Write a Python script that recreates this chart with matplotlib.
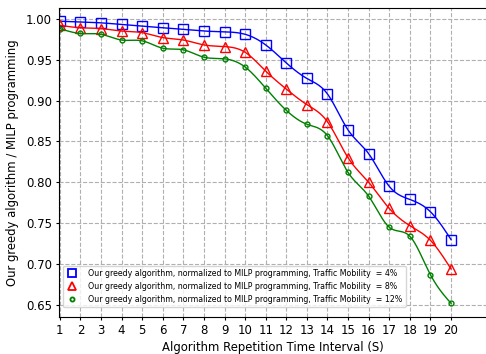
import numpy as np
import matplotlib
matplotlib.use("Agg")
import matplotlib.pyplot as plt

x = list(range(1, 21))
mob_4 = [0.997, 0.996, 0.995, 0.993, 0.991, 0.989, 0.987, 0.985, 0.984, 0.981,
         0.968, 0.946, 0.927, 0.908, 0.864, 0.835, 0.795, 0.779, 0.764, 0.730]
mob_8 = [0.992, 0.989, 0.988, 0.985, 0.983, 0.977, 0.974, 0.968, 0.966, 0.959,
         0.936, 0.914, 0.895, 0.874, 0.830, 0.800, 0.768, 0.747, 0.729, 0.694]
mob_12 = [0.988, 0.982, 0.981, 0.974, 0.973, 0.964, 0.962, 0.953, 0.951, 0.941,
          0.915, 0.888, 0.871, 0.857, 0.812, 0.783, 0.745, 0.734, 0.687, 0.652]
labels = ["Our greedy algorithm, normalized to MILP programming, Traffic Mobility  = 4%",
          "Our greedy algorithm, normalized to MILP programming, Traffic Mobility  = 8%",
          "Our greedy algorithm, normalized to MILP programming, Traffic Mobility  = 12%"]


def smooth(xs, ys, n=400):
    # natural cubic spline through the points
    xs = np.asarray(xs, float)
    ys = np.asarray(ys, float)
    m = len(xs)
    h = np.diff(xs)
    A = np.zeros((m, m))
    b = np.zeros(m)
    A[0, 0] = A[-1, -1] = 1
    for i in range(1, m - 1):
        A[i, i - 1] = h[i - 1]
        A[i, i] = 2 * (h[i - 1] + h[i])
        A[i, i + 1] = h[i]
        b[i] = 3 * ((ys[i + 1] - ys[i]) / h[i] - (ys[i] - ys[i - 1]) / h[i - 1])
    c = np.linalg.solve(A, b)
    xf = np.linspace(xs[0], xs[-1], n)
    idx = np.clip(np.searchsorted(xs, xf) - 1, 0, m - 2)
    dx = xf - xs[idx]
    bb = (ys[idx + 1] - ys[idx]) / h[idx] - h[idx] * (2 * c[idx] + c[idx + 1]) / 3
    dd = (c[idx + 1] - c[idx]) / (3 * h[idx])
    yf = ys[idx] + bb * dx + c[idx] * dx ** 2 + dd * dx ** 3
    return xf, yf


fig = plt.figure(figsize=(4.86, 3.54), dpi=100)
ax = fig.add_axes([0.121, 0.104, 0.879, 0.873])

styles = [("blue", "s", 6.5, mob_4), ("red", "^", 6.5, mob_8), ("green", "o", 3.5, mob_12)]
for (col, mk, ms, ys), lab in zip(styles, labels):
    xf, yf = smooth(x, ys)
    ax.plot(xf, yf, color=col, lw=1)
    ax.plot(x, ys, ls="none", marker=mk, ms=ms, mfc="none", mec=col, mew=1)
    ax.plot([], [], ls="none", marker=mk, ms=ms * 0.85, mfc="none", mec=col, mew=1.3, label=lab)

ax.set_xlim(0.95, 21.7)
ax.set_ylim(0.635, 1.013)
ax.set_xticks(x)
ax.set_yticks([0.65, 0.70, 0.75, 0.80, 0.85, 0.90, 0.95, 1.00])
ax.grid(True, ls="--", color="#b0b0b0", lw=0.8)
ax.tick_params(labelsize=8.5, length=2.5, pad=2.5)
ax.set_xlabel("Algorithm Repetition Time Interval (S)", fontsize=8.4, labelpad=3)
ax.set_ylabel("Our greedy algorithm / MILP programming", fontsize=8.4, labelpad=5)
ax.legend(loc="lower left", fontsize=5.7, bbox_to_anchor=(0.0, 0.02),
          handletextpad=1.2, handlelength=1.6)
ax.spines["right"].set_visible(False)

fig.savefig("out.png", dpi=100)
